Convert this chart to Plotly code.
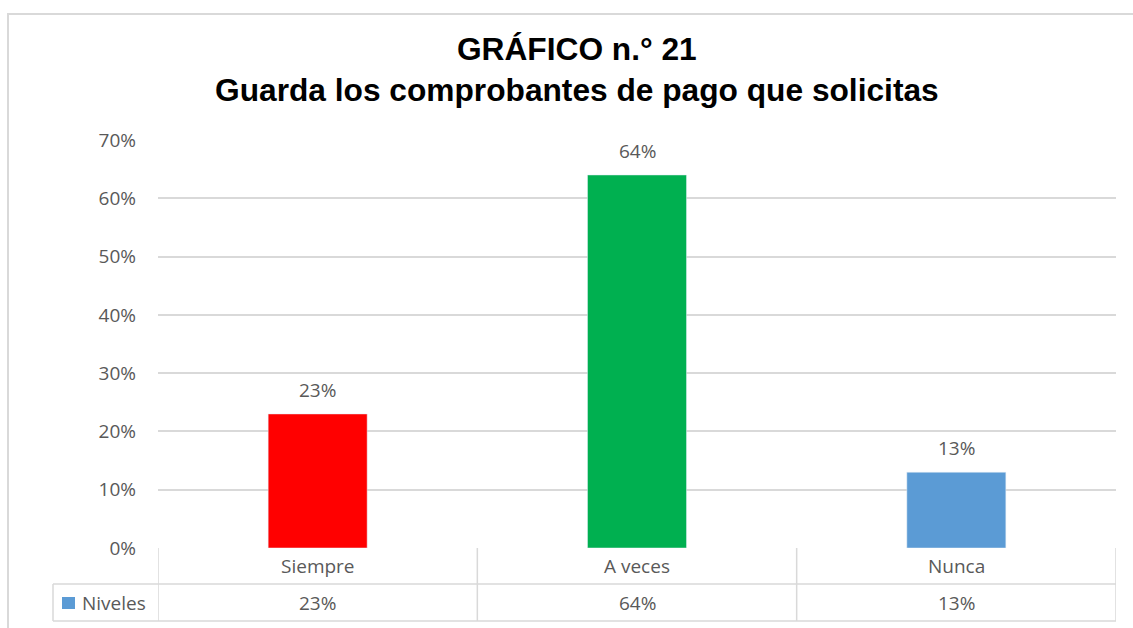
import plotly.graph_objects as go

categories = ["Siempre", "A veces", "Nunca"]
values = [0.23, 0.64, 0.13]
bar_colors = ["#FF0000", "#00B050", "#5B9BD5"]
series_name = "Niveles"
title_lines = ["GRÁFICO n.° 21", "Guarda los comprobantes de pago que solicitas"]
tick_vals = [0, 0.1, 0.2, 0.3, 0.4, 0.5, 0.6, 0.7]

W, H = 1133, 628
L, R, T, B = 158, 17, 140, 80
pw, ph = W - L - R, H - T - B

def px_x(x):
    return (x - L) / pw

def px_y(y):
    return (H - B - y) / ph

GRID = "#d9d9d9"
TXT = "#595959"
FONT = "Open Sans, Segoe UI, sans-serif"
FS = 19

fig = go.Figure()
fig.add_trace(go.Bar(
    x=categories, y=values, marker_color=bar_colors, name=series_name,
    showlegend=False, hoverinfo="x+y",
))

shapes = []
# outer chart border
shapes.append(dict(type="rect", xref="paper", yref="paper",
                   x0=px_x(8), x1=px_x(1140), y0=px_y(14), y1=px_y(640),
                   line=dict(color=GRID, width=2), layer="below"))
# table horizontal lines
row1 = px_y(584)
row2 = px_y(621)
shapes.append(dict(type="line", xref="paper", yref="paper", x0=px_x(53), x1=1, y0=row1, y1=row1,
                   line=dict(color=GRID, width=1.5)))
shapes.append(dict(type="line", xref="paper", yref="paper", x0=px_x(53), x1=1, y0=row2, y1=row2,
                   line=dict(color=GRID, width=1.5)))
shapes.append(dict(type="line", xref="paper", yref="paper", x0=px_x(53), x1=px_x(53), y0=row1, y1=row2,
                   line=dict(color=GRID, width=1.5)))
# vertical dividers at category boundaries
for b in [-0.5, 0.5, 1.5, 2.5]:
    shapes.append(dict(type="line", xref="x", yref="paper", x0=b, x1=b, y0=0, y1=row2,
                       line=dict(color=GRID, width=1.5)))
# legend key square
shapes.append(dict(type="rect", xref="paper", yref="paper",
                   x0=px_x(62), x1=px_x(75), y0=px_y(609), y1=px_y(597),
                   fillcolor=bar_colors[2], line=dict(width=0)))

annotations = []
annotations.append(dict(xref="paper", yref="paper", x=px_x(577), y=px_y(70),
                        text="<b>" + "<br>".join(title_lines) + "</b>", showarrow=False,
                        font=dict(family="Liberation Sans, Arial", size=31.7, color="black"),
                        xanchor="center", yanchor="middle"))
for c, v in zip(categories, values):
    # data label above bar
    annotations.append(dict(xref="x", yref="y", x=c, y=v, text=f"{v:.0%}", showarrow=False,
                            font=dict(family=FONT, size=FS, color=TXT), yanchor="middle", yshift=24))
    annotations.append(dict(xref="x", yref="paper", x=c, y=px_y(566), text=c, showarrow=False,
                            font=dict(family=FONT, size=FS, color=TXT), yanchor="middle"))
    annotations.append(dict(xref="x", yref="paper", x=c, y=px_y(603), text=f"{v:.0%}", showarrow=False,
                            font=dict(family=FONT, size=FS, color=TXT), yanchor="middle"))
annotations.append(dict(xref="paper", yref="paper", x=px_x(80), y=px_y(603), text=series_name,
                        showarrow=False, xanchor="left", yanchor="middle",
                        font=dict(family=FONT, size=FS, color=TXT)))

fig.update_layout(
    width=W, height=H, margin=dict(l=L, r=R, t=T, b=B),
    paper_bgcolor="white", plot_bgcolor="white",
    bargap=0.69, shapes=shapes, annotations=annotations,
    xaxis=dict(showticklabels=False, showgrid=False, zeroline=False, showline=False,
               range=[-0.5, 2.5], fixedrange=True),
    yaxis=dict(range=[0, 0.7], tickvals=tick_vals, tickformat=".0%", showgrid=True,
               gridcolor=GRID, gridwidth=1.5, zeroline=False, showline=False,
               tickfont=dict(family=FONT, size=FS, color=TXT), ticklabelstandoff=21),
)
fig.write_html("out.html", config={"displayModeBar": False})

with open("out.html", "r", encoding="utf-8") as f:
    html = f.read()
html = html.replace("<body>", '<body style="margin:0;padding:0;overflow:hidden">', 1)
with open("out.html", "w", encoding="utf-8") as f:
    f.write(html)
